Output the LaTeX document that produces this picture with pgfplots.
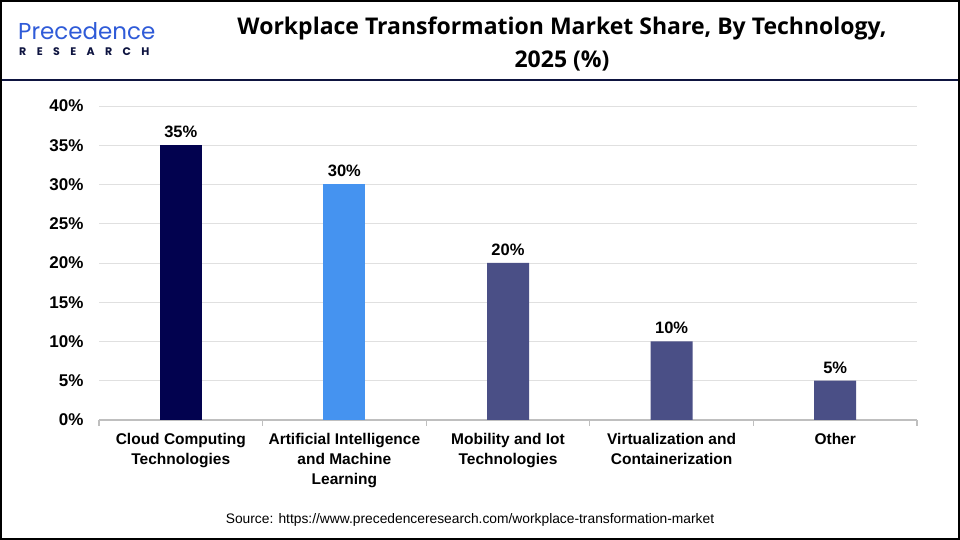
\documentclass[border=0pt]{standalone}
\usepackage{pgfplots}
\pgfplotsset{compat=1.18}
\usepackage{fontspec}
\setmainfont{Liberation Sans}
\newfontfamily\titlefont{Open Sans}
\newfontfamily\logofont{Poppins}
\definecolor{navybar}{HTML}{02024F}
\definecolor{bluebar}{HTML}{4593F0}
\definecolor{slatebar}{HTML}{4A4F86}
\definecolor{headline}{HTML}{0E1440}
\definecolor{logoblue}{HTML}{2F5BD8}
\begin{document}
\begin{tikzpicture}[x=1pt,y=1pt]
\useasboundingbox (0,0) rectangle (960,540);
\fill[white] (0,0) rectangle (960,540);
% header line
\draw[headline,line width=2.2pt] (0,460) -- (960,460);
% logo
\node[anchor=north west,inner sep=0pt,align=left] at (18,518) {{\logofont\color{logoblue}\fontsize{23}{20}\selectfont Precedence}\\[4pt]
{\logofont\bfseries\color{headline}\fontsize{11}{12}\selectfont \hspace{1pt}R\hspace{10.4pt}E\hspace{10.4pt}S\hspace{10.4pt}E\hspace{10.4pt}A\hspace{10.4pt}R\hspace{10.4pt}C\hspace{10.4pt}H}};
% title
\node[align=center,inner sep=0pt,font=\titlefont\bfseries\fontsize{23}{33}\selectfont] at (562,496) {Workplace Transformation Market Share, By Technology,\\2025 (\%)};
% source
\node[inner sep=0pt,font=\fontsize{13.8}{15}\selectfont] at (470,20) {Source: https://www.precedenceresearch.com/workplace-transformation-market};
\begin{axis}[
  at={(99pt,120pt)}, anchor=south west,
  scale only axis, width=818pt, height=314pt,
  xmin=-0.5, xmax=4.5, ymin=0, ymax=40,
  axis x line*=bottom, axis y line*=left,
  y axis line style={draw=none},
  x axis line style={draw=black!25, line width=1.2pt},
  ytick={0,5,...,40},
  yticklabel={\pgfmathprintnumber{\tick}\%},
  /pgf/number format/assume math mode=true,
  yticklabel style={font=\bfseries\fontsize{17}{18}\selectfont, xshift=-12pt},
  ymajorgrids, grid style={draw=black!12, line width=0.6pt},
  major tick length=0pt,
  xtick={0,1,2,3,4},
  xticklabels={Cloud Computing\\Technologies, Artificial Intelligence\\and Machine\\Learning, Mobility and Iot\\Technologies, Virtualization and\\Containerization, Other},
  xticklabel style={align=center, font=\bfseries\fontsize{15.5}{20}\selectfont, yshift=-10pt},
  minor xtick={-0.5,0.5,...,4.5},
  minor tick length=6pt, tick align=outside,
  minor tick style={draw=black!25, line width=1.2pt},
  ybar, bar width=42pt, bar shift=0pt,
  nodes near coords={\pgfmathprintnumber{\pgfplotspointmeta}\%},
  nodes near coords style={font=\bfseries\fontsize{16.5}{18}\selectfont, text=black, yshift=4pt},
  point meta=y,
]
\addplot[fill=navybar, draw=none] coordinates {(0,35)};
\addplot[fill=bluebar, draw=none] coordinates {(1,30)};
\addplot[fill=slatebar, draw=none] coordinates {(2,20) (3,10) (4,5)};
\end{axis}
\draw[black,line width=2pt] (1,1) rectangle (959,539);
\end{tikzpicture}
\end{document}
